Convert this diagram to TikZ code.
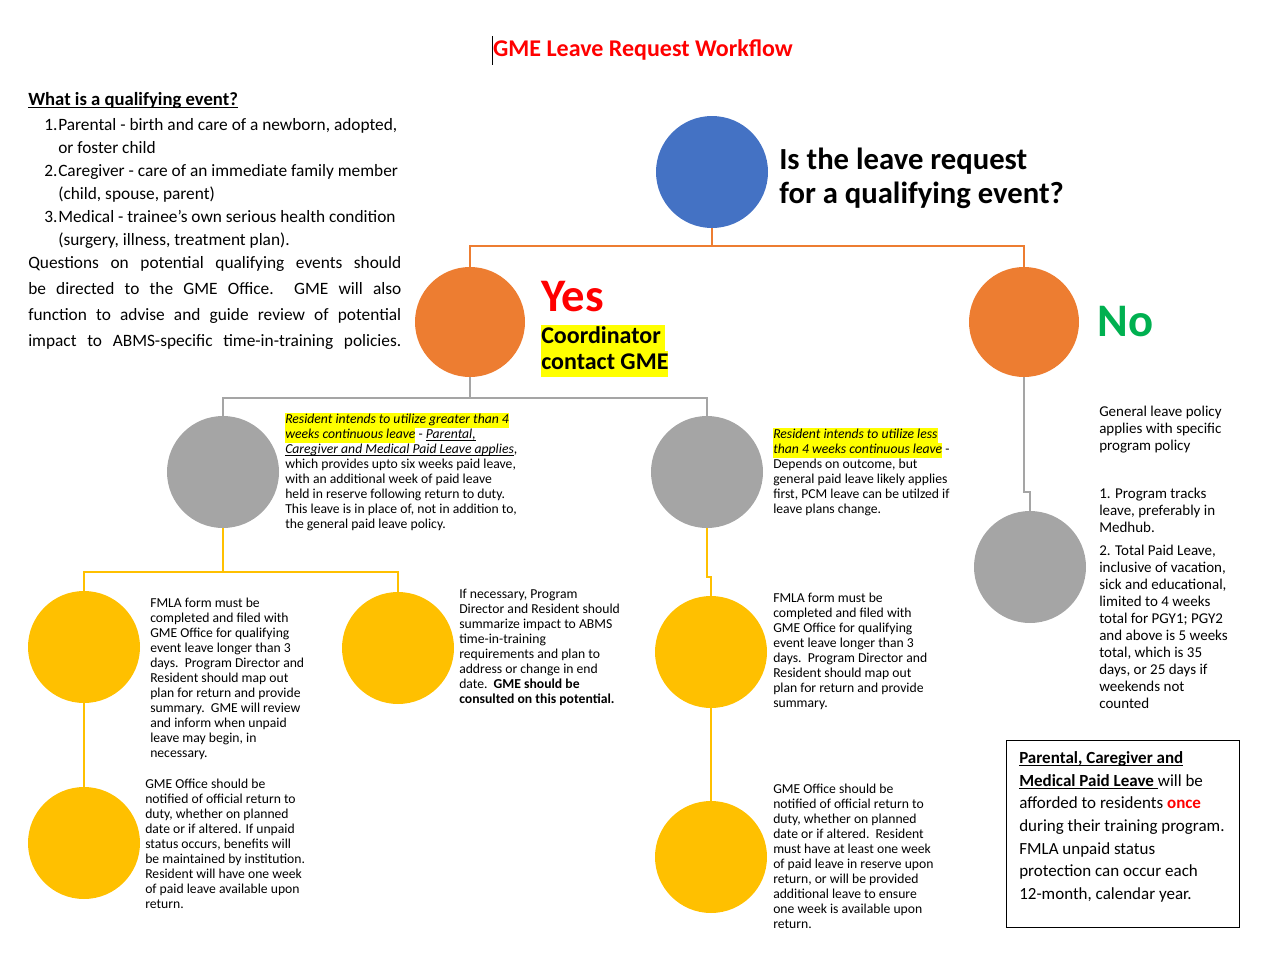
\documentclass[tikz,border=0pt]{standalone}
\usepackage{fontspec}
\setmainfont{Carlito}
\usepackage{xcolor}
\usetikzlibrary{positioning}
\definecolor{qblue}{HTML}{4472C4}
\definecolor{qorange}{HTML}{ED7D31}
\definecolor{qgray}{HTML}{A5A5A5}
\definecolor{qgold}{HTML}{FFC000}
\definecolor{qgreen}{HTML}{00B050}
\definecolor{qred}{HTML}{FF0000}
\definecolor{qmark}{HTML}{FFFF00}
\tikzset{
  bubble/.style={circle, inner sep=0pt, minimum size=84pt},
  link/.style={line width=1.5pt},
  note/.style={align=left, inner sep=0pt, anchor=west, font=\fontsize{10.25}{11.25}\selectfont},
  sidenote/.style={note, font=\fontsize{11.25}{12.7}\selectfont},
}
\newcommand{\hilite}[1]{{\setlength{\fboxsep}{0pt}\colorbox{qmark}{\strut#1}}}
\newcommand{\undl}[1]{\underline{\raisebox{0pt}[\height][0pt]{#1}}}
\newcommand{\jline}[1]{\makebox[279.75pt][s]{#1}}
\newcommand{\itemno}[1]{\makebox[10.5pt][l]{#1}}

\begin{document}
\begin{tikzpicture}[x=0.75pt, y=-0.75pt]
  \useasboundingbox (0,0) rectangle (1282,960);

  % title
  \node[font=\fontsize{18}{21}\selectfont\bfseries, text=qred] (title) at (643,50) {GME Leave Request Workflow};
  \draw[line width=0.6pt] (492,36) -- (492,65);

  % qualifying events
  \node[anchor=west, inner sep=0pt, font=\fontsize{14}{16}\selectfont\bfseries] (whatis) at (28,100)
    {\undl{What is a qualifying event?}};
  \node[anchor=west, inner sep=0pt, align=left, font=\fontsize{13}{17.25}\selectfont] (events) at (44,183.5)
    {\itemno{1.}Parental - birth and care of a newborn, adopted,\\
     \hspace*{10.5pt}or foster child\\
     \itemno{2.}Caregiver - care of an immediate family member\\
     \hspace*{10.5pt}(child, spouse, parent)\\
     \itemno{3.}Medical - trainee’s own serious health condition\\
     \hspace*{10.5pt}(surgery, illness, treatment plan).};
  \node[anchor=west, inner sep=0pt, align=left, font=\fontsize{13}{19.5}\selectfont] (questions) at (28,303)
    {\jline{Questions on potential qualifying events should}\\
     \jline{be directed to the GME Office.\ \ GME will also}\\
     \jline{function to advise and guide review of potential}\\
     \jline{impact to ABMS-specific time-in-training policies.}};

  % decision
  \node[bubble, fill=qblue] (q) at (712,172) {};
  \node[anchor=west, inner sep=0pt, align=left, font=\fontsize{23}{25.5}\selectfont\bfseries] (qtext) at (779,178)
    {Is the leave request\\for a qualifying event?};

  \node[bubble, fill=qorange, minimum size=82.5pt] (yes) at (470,322) {};
  \node[bubble, fill=qorange, minimum size=82.5pt] (no) at (1024,322) {};
  \node[anchor=west, inner sep=0pt, font=\fontsize{35}{40}\selectfont\bfseries, text=qred] (yeslbl) at (541,297) {Yes};
  \node[anchor=west, inner sep=0pt, align=left, font=\fontsize{18}{19.5}\selectfont\bfseries] (coord) at (541,351)
    {\hilite{Coordinator\,}\\\hilite{contact GME}};
  \node[anchor=west, inner sep=0pt, font=\fontsize{35}{40}\selectfont\bfseries, text=qgreen] (nolbl) at (1097,322) {No};

  \draw[link, qorange] (q.south) -- ++(0,18) coordinate (qfork);
  \draw[link, qorange] (qfork) -| (yes.north);
  \draw[link, qorange] (qfork) -| (no.north);

  % yes branch
  \node[bubble, fill=qgray] (long) at (223,472) {};
  \node[bubble, fill=qgray] (short) at (707,472) {};
  \draw[link, qgray] (yes.south) -- ++(0,21) coordinate (yfork);
  \draw[link, qgray] (yfork) -| (long.north);
  \draw[link, qgray] (yfork) -| (short.north);

  \node[note] (longtext) at (285,472)
    {\hilite{\textit{Resident intends to utilize greater than 4}}\\
     \hilite{\textit{weeks continuous leave}} - \undl{\textit{Parental,}}\\
     \undl{\textit{Caregiver and Medical Paid Leave applies}},\\
     which provides upto six weeks paid leave,\\
     with an additional week of paid leave\\
     held in reserve following return to duty.\\
     This leave is in place of, not in addition to,\\
     the general paid leave policy.};
  \node[note] (shorttext) at (773,472)
    {\hilite{\textit{Resident intends to utilize less}}\\
     \hilite{\textit{than 4 weeks continuous leave}} -\\
     Depends on outcome, but\\
     general paid leave likely applies\\
     first, PCM leave can be utilzed if\\
     leave plans change.};

  % greater than 4 weeks
  \node[bubble, fill=qgold] (fmla) at (84,647) {};
  \node[bubble, fill=qgold] (plan) at (398,648) {};
  \node[bubble, fill=qgold] (ret) at (84,843) {};
  \draw[link, qgold] (long.south) -- ++(0,44) coordinate (lfork);
  \draw[link, qgold] (lfork) -| (fmla.north);
  \draw[link, qgold] (lfork) -| (plan.north);
  \draw[link, qgold] (fmla.south) -- (ret.north);

  \node[note] (fmlatext) at (150,679)
    {FMLA form must be\\
     completed and filed with\\
     GME Office for qualifying\\
     event leave longer than 3\\
     days.\ \ Program Director and\\
     Resident should map out\\
     plan for return and provide\\
     summary.\ \ GME will review\\
     and inform when unpaid\\
     leave may begin, in\\
     necessary.};
  \node[note] (plantext) at (459,647.5)
    {If necessary, Program\\
     Director and Resident should\\
     summarize impact to ABMS\\
     time-in-training\\
     requirements and plan to\\
     address or change in end\\
     date.\ \ \textbf{GME should be}\\
     \textbf{consulted on this potential.}};
  \node[note] (rettext) at (145,843.5)
    {GME Office should be\\
     notified of official return to\\
     duty, whether on planned\\
     date or if altered. If unpaid\\
     status occurs, benefits will\\
     be maintained by institution.\\
     Resident will have one week\\
     of paid leave available upon\\
     return.};

  % less than 4 weeks
  \node[bubble, fill=qgold] (sfmla) at (711,652) {};
  \node[bubble, fill=qgold] (sret) at (711,857) {};
  \draw[link, qgold] (short.south) -- ++(0,49) -| (sfmla.north);
  \draw[link, qgold] (sfmla.south) -- (sret.north);

  \node[note] (sfmlatext) at (773,651.5)
    {FMLA form must be\\
     completed and filed with\\
     GME Office for qualifying\\
     event leave longer than 3\\
     days.\ \ Program Director and\\
     Resident should map out\\
     plan for return and provide\\
     summary.};
  \node[note] (srettext) at (773,856.5)
    {GME Office should be\\
     notified of official return to\\
     duty, whether on planned\\
     date or if altered.\ \ Resident\\
     must have at least one week\\
     of paid leave in reserve upon\\
     return, or will be provided\\
     additional leave to ensure\\
     one week is available upon\\
     return.};

  % no branch
  \node[bubble, fill=qgray] (gen) at (1030,567) {};
  \draw[link, qgray] (no.south) -- ++(0,115) -| (gen.north);

  \node[sidenote] (gentext) at (1099,429.5)
    {General leave policy\\applies with specific\\program policy};
  \node[sidenote] (tracktext) at (1099,510.5)
    {1. Program tracks\\leave, preferably in\\Medhub.};
  \node[sidenote] (totaltext) at (1099,627)
    {2. Total Paid Leave,\\
     inclusive of vacation,\\
     sick and educational,\\
     limited to 4 weeks\\
     total for PGY1; PGY2\\
     and above is 5 weeks\\
     total, which is 35\\
     days, or 25 days if\\
     weekends not\\
     counted};

  % once-only box
  \node[draw, line width=0.75pt, anchor=north west, minimum width=174.75pt, minimum height=140.25pt] (oncebox) at (1006,740) {};
  \node[anchor=west, inner sep=0pt, align=left, font=\fontsize{12.75}{17}\selectfont] (oncetext) at (1019,827)
    {\undl{\textbf{Parental, Caregiver and}}\\
     \undl{\textbf{Medical Paid Leave}\ }will be\\
     afforded to residents \textcolor{qred}{\textbf{once}}\\
     during their training program.\\
     FMLA unpaid status\\
     protection can occur each\\
     12-month, calendar year.};
\end{tikzpicture}
\end{document}
